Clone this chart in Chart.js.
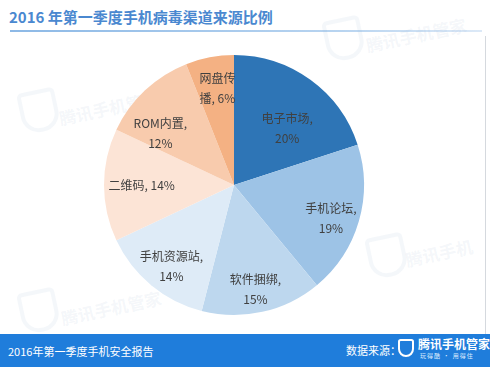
<!DOCTYPE html>
<html><head><meta charset="utf-8">
<script src="https://cdn.jsdelivr.net/npm/chart.js@4/dist/chart.umd.min.js"></script>
<style>
html,body{margin:0;padding:0;background:#fff;}
body{width:490px;height:369px;position:relative;overflow:hidden;font-family:"Noto Sans CJK SC","Noto Sans",sans-serif;}
#title{position:absolute;left:9px;top:6px;font-size:15px;font-weight:bold;color:#4A88D0;letter-spacing:0px;}
#tline{position:absolute;left:10px;top:30px;width:472px;height:2px;background:linear-gradient(to right,#8DB9E6,#B8D4F0 70%,#DCE9F7);}
#rline{position:absolute;left:485px;top:36px;width:1px;height:298px;background:#D5D9DE;}
#footer{position:absolute;left:0;top:334px;width:490px;height:33px;background:#1F7DDB;}
#ftl{position:absolute;left:8px;top:9px;font-size:11px;color:#fff;}
#ftr{position:absolute;left:346px;top:8px;font-size:11px;color:#fff;}
#logo{position:absolute;left:398px;top:5px;width:16px;height:18px;border:2px solid #fff;border-radius:3px 3px 9px 9px;box-sizing:border-box;}
#logot{position:absolute;left:418px;top:3px;font-size:12px;font-weight:bold;color:#fff;line-height:13px;}
#logos{position:absolute;left:420px;top:17px;font-size:6px;color:#dfeeff;letter-spacing:1px;}
.wm{position:absolute;color:rgba(150,175,205,0.11);font-size:17px;font-weight:bold;transform:rotate(-12deg);white-space:nowrap;}
.wmi{position:absolute;width:30px;height:34px;border:4px solid rgba(150,175,205,0.10);border-radius:5px 5px 18px 18px;transform:rotate(-12deg);}
#c{position:absolute;left:0;top:0;}
</style></head>
<body>
<div id="title">2016 年第一季度手机病毒渠道来源比例</div>
<div id="tline"></div>
<div id="rline"></div>
<div class="wmi" style="left:325px;top:18px"></div><div class="wm" style="left:365px;top:22px">腾讯手机管家</div>
<div class="wmi" style="left:20px;top:90px"></div><div class="wm" style="left:58px;top:95px">腾讯手机管家</div>
<div class="wmi" style="left:180px;top:155px"></div>
<div class="wmi" style="left:368px;top:235px"></div><div class="wm" style="left:405px;top:240px">腾讯手机</div>
<div class="wmi" style="left:20px;top:290px"></div><div class="wm" style="left:60px;top:295px">腾讯手机管家</div>
<div id="footer">
  <div id="ftl">2016年第一季度手机安全报告</div>
  <div id="ftr">数据来源：</div>
  <div id="logo"></div>
  <div id="logot">腾讯手机管家</div>
  <div id="logos">玩得酷 · 用得住</div>
</div>
<canvas id="c" width="490" height="369"></canvas>
<script>
const categories = ['电子市场','手机论坛','软件捆绑','手机资源站','二维码','ROM内置','网盘传播'];
const values = [20,19,15,14,14,12,6];
const colors = ['#2E75B6','#9DC3E6','#BDD7EE','#DEEBF7','#FCE4D6','#F8CBAD','#F4B183'];
const labelLines = [
  ['电子市场,','20%'],
  ['手机论坛,','19%'],
  ['软件捆绑,','15%'],
  ['手机资源站,','14%'],
  ['二维码, 14%'],
  ['ROM内置,','12%'],
  ['网盘传','播, 6%']
];

const labelPlugin = {
  id:'sliceLabels',
  afterDatasetsDraw(chart, args, opts){
    const ctx = chart.ctx;
    const meta = chart.getDatasetMeta(0);
    ctx.save();
    ctx.font = '12px "Noto Sans CJK SC", sans-serif';
    ctx.fillStyle = '#404040';
    ctx.textAlign = 'center';
    ctx.textBaseline = 'middle';
    meta.data.forEach((arc,i)=>{
      const p = arc.getProps(['x','y','startAngle','endAngle','outerRadius'],true);
      const mid = (p.startAngle+p.endAngle)/2 + (opts.angleShift[i]||0)*Math.PI/180;
      const r = p.outerRadius*opts.radius[i];
      const cx = p.x + Math.cos(mid)*r;
      const cy = p.y + Math.sin(mid)*r;
      const lines = labelLines[i];
      const lh = 20;
      lines.forEach((t,k)=>{
        ctx.fillText(t, cx, cy + (k-(lines.length-1)/2)*lh);
      });
    });
    ctx.restore();
  }
};

new Chart(document.getElementById('c'),{
  type:'pie',
  data:{labels:categories,datasets:[{data:values,backgroundColor:colors,borderWidth:0}]},
  options:{
    responsive:false,animation:false,
    layout:{padding:{left:104,top:55,right:126,bottom:54}},
    plugins:{legend:{display:false},tooltip:{enabled:false},
      sliceLabels:{radius:[0.6,0.79,0.82,0.79,0.71,0.69,0.75],angleShift:[7,3,1,-2,0,-12,1]}},
    events:[]
  },
  plugins:[labelPlugin]
});
</script>
</body></html>
